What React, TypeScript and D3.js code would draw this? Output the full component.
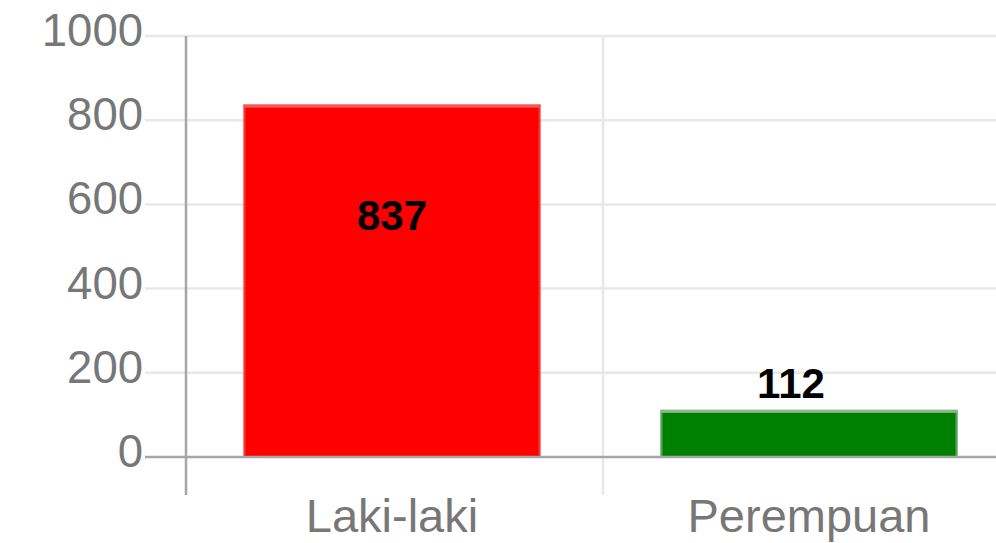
import React from 'react';
import * as d3 from 'd3';

// data
const categories = ['Laki-laki', 'Perempuan'];
const values = [837, 112];
const barColors = ['#ff0000', '#008000'];
const barBorders = ['#f25a5a', '#8cb88c'];
const yTicks = [0, 200, 400, 600, 800, 1000];

const W = 996, H = 543;

export default function App() {
  const x = d3.scaleBand<string>().domain(categories).range([186, 1020]).paddingInner(0).paddingOuter(0);
  const y = d3.scaleLinear().domain([0, 1000]).range([457, 36]);
  const bw = x.bandwidth() * 0.712;
  const font = 'Liberation Sans, Arial, sans-serif';
  const center = (c: string) => x(c)! + x.bandwidth() / 2 - 2.5;

  return (
    <svg width={W} height={H} style={{ position: 'absolute', left: 0, top: 0, background: '#fff' }} fontFamily={font}>
      {/* horizontal gridlines */}
      {yTicks.filter(t => t > 0).map(t => (
        <line key={'h' + t} x1={145} x2={W} y1={y(t)} y2={y(t)} stroke="#e8e8e8" strokeWidth={2.5} />
      ))}
      {/* vertical gridlines between categories */}
      {categories.slice(1).map(c => (
        <line key={'v' + c} x1={x(c)!} x2={x(c)!} y1={36} y2={495} stroke="#e8e8e8" strokeWidth={2.5} />
      ))}
      {/* bars */}
      {categories.map((c, i) => {
        const cx = center(c);
        const top = y(values[i]);
        return (
          <g key={c}>
            <rect x={cx - bw / 2} y={top} width={bw} height={y(0) - top} fill={barColors[i]} />
            <rect x={cx - bw / 2} y={top} width={bw} height={3} fill={barBorders[i]} />
            <rect x={cx - bw / 2} y={top} width={2} height={y(0) - top} fill={barBorders[i]} opacity={0.6} />
            <rect x={cx + bw / 2 - 2} y={top} width={2} height={y(0) - top} fill={barBorders[i]} opacity={0.6} />
          </g>
        );
      })}
      {/* axes */}
      <line x1={186} x2={186} y1={36} y2={495} stroke="#a6a6a6" strokeWidth={2.5} />
      <line x1={145} x2={W} y1={y(0)} y2={y(0)} stroke="#a6a6a6" strokeWidth={2.5} />
      {/* y tick labels */}
      {yTicks.map(t => (
        <text key={'t' + t} x={143} y={y(t) + 10} textAnchor="end" fontSize={45.5} fill="#777">{t}</text>
      ))}
      {/* x labels */}
      {categories.map(c => (
        <text key={'x' + c} x={center(c)} y={532} textAnchor="middle" fontSize={47} fill="#777">{c}</text>
      ))}
      {/* value labels */}
      {categories.map((c, i) => {
        const inside = values[i] > 500;
        const top = y(values[i]);
        const ly = inside ? top + 125 : top - 12;
        const lx = inside ? center(c) : center(c) - 18;
        return (
          <text key={'l' + c} x={lx} y={ly} textAnchor="middle" fontSize={42} fontWeight="bold" fill="#000">{values[i]}</text>
        );
      })}
    </svg>
  );
}
